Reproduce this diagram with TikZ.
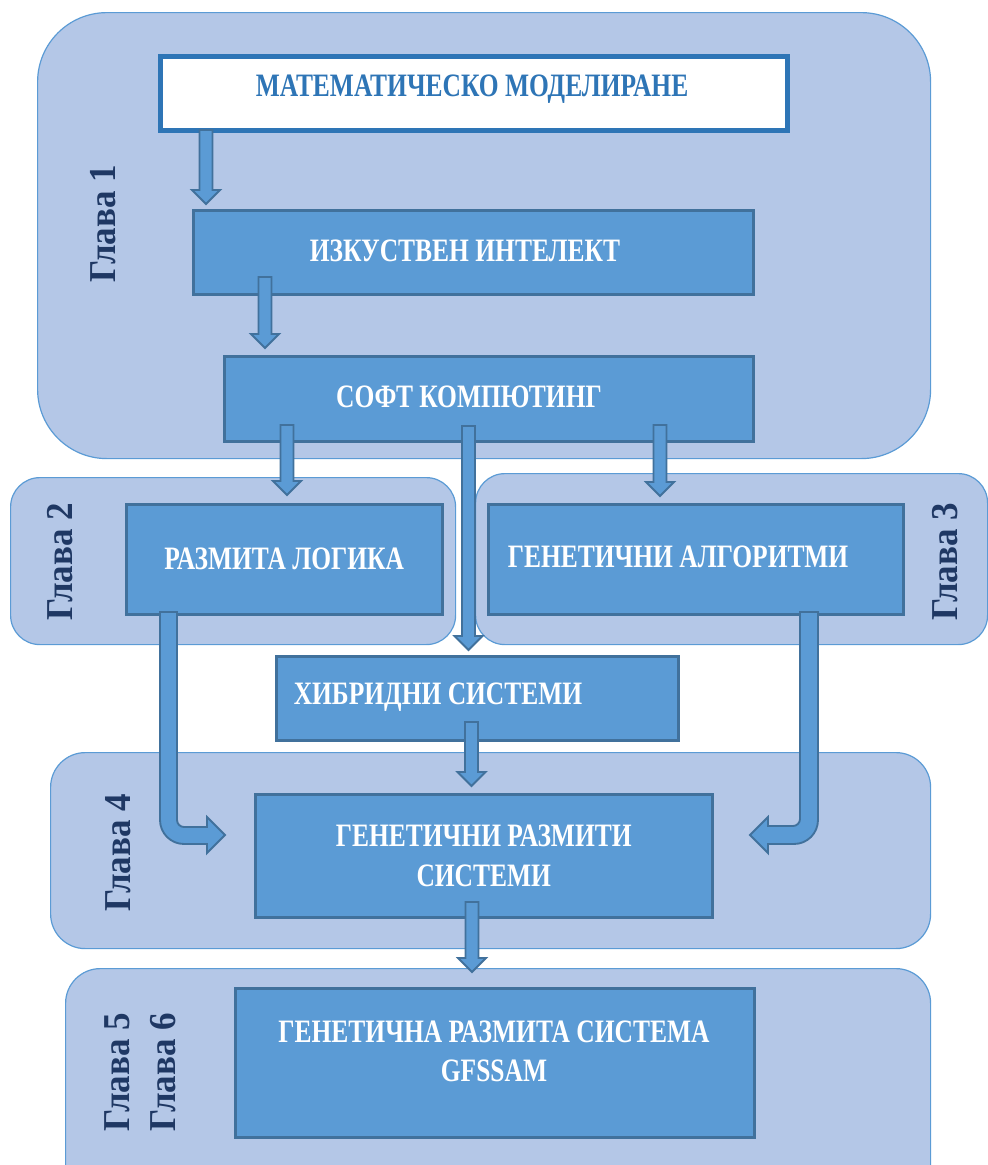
\documentclass[tikz,border=0pt]{standalone}
\usepackage{fontspec}
\newfontfamily\boxfont{Liberation Serif}[FakeStretch=0.78]
\newfontfamily\lblfont{Liberation Serif}[FakeStretch=0.92]
\definecolor{grpfill}{HTML}{B4C7E7}
\definecolor{grpline}{HTML}{5B9BD5}
\definecolor{boxfill}{HTML}{5B9BD5}
\definecolor{boxline}{HTML}{41719C}
\definecolor{topline}{HTML}{2E75B6}
\definecolor{lblcol}{HTML}{1F3864}
\tikzset{
  grp/.style={draw=grpline, fill=grpfill, line width=0.9pt},
  box/.style={draw=boxline, fill=boxfill, line width=1.9pt, text=white, align=center, inner sep=0pt,
    font=\boxfont\bfseries\fontsize{24.5}{29.5}\selectfont},
  topbox/.style={draw=topline, fill=white, line width=3.5pt, inner sep=0pt},
  boxtext/.style={text=white, align=center, inner sep=0pt, font=\boxfont\bfseries\fontsize{24.5}{29.5}\selectfont},
  lbl/.style={text=lblcol, rotate=90, inner sep=0pt, font=\lblfont\bfseries\fontsize{28.5}{34}\selectfont},
  barrow/.style={draw=boxline, fill=boxfill, line width=1.4pt, line join=miter}
}
\newcommand\mybox[7]{% name, style, x1, y1, x2, y2, text
  \pgfmathsetmacro\bw{(#5-#3)*0.75}\pgfmathsetmacro\bh{(#6-#4)*0.75}%
  \node[#2, minimum width=\bw pt, minimum height=\bh pt, anchor=north west] (#1) at (#3,#4) {#7};}
\newcommand\varrow[3]{% cx, ytop, ytip
  \draw[barrow] (#1-6.5,#2) -- (#1-6.5,#3-14) -- (#1-14,#3-14) -- (#1,#3) -- (#1+14,#3-14) -- (#1+6.5,#3-14) -- (#1+6.5,#2) -- cycle;}
\begin{document}
\begin{tikzpicture}[x=0.75pt,y=-0.75pt]
\useasboundingbox (0,0) rectangle (988,1165);
% groups
\mybox{g1}{grp, rounded corners=52pt}{37}{12}{930}{458}{}
\mybox{g2}{grp, rounded corners=22pt}{10}{477}{455}{644}{}
\mybox{g3}{grp, rounded corners=22pt}{475}{473}{987}{644}{}
\mybox{g4}{grp, rounded corners=26pt}{50}{752}{930}{948}{}
\mybox{g5}{grp, rounded corners=26pt}{65}{968}{930}{1210}{}
% labels
\node[lbl] (l1) at (103,224) {Глава 1};
\node[lbl] (l2) at (60,562) {Глава 2};
\node[lbl] (l3) at (945,562) {Глава 3};
\node[lbl] (l4) at (118,853) {Глава 4};
\node[lbl] (l5) at (117,1072) {Глава 5};
\node[lbl] (l6) at (163,1072) {Глава 6};
% boxes
\mybox{mm}{topbox}{158}{54}{785}{128}{}
\node[boxtext, text=topline] (mmt) at (472,89) {МАТЕМАТИЧЕСКО МОДЕЛИРАНЕ};
\mybox{ii}{box}{192}{209}{752}{293}{}
\node[boxtext] (iit) at (465,251) {ИЗКУСТВЕН ИНТЕЛЕКТ};
\mybox{sc}{box}{223}{355}{752}{440}{}
\node[boxtext] (sct) at (469,397) {СОФТ КОМПЮТИНГ};
\mybox{rl}{box}{125}{503}{441}{613}{РАЗМИТА ЛОГИКА}
\mybox{ga}{box}{487}{503}{902}{613}{}
\node[boxtext] (gat) at (678,557) {ГЕНЕТИЧНИ АЛГОРИТМИ};
\mybox{hs}{box}{275}{655}{677}{739}{}
\node[boxtext] (hst) at (438,697) {ХИБРИДНИ СИСТЕМИ};
\mybox{grs}{box}{254}{793}{711}{916}{ГЕНЕТИЧНИ РАЗМИТИ\\СИСТЕМИ}
\mybox{gfs}{box}{234}{987}{753}{1136}{}
\node[boxtext] (gfst) at (494,1051) {ГЕНЕТИЧНА РАЗМИТА СИСТЕМА\\GFSSAM};
% straight block arrows
\varrow{206}{130}{204}
\varrow{265}{277}{348}
\varrow{287}{425}{495}
\varrow{468.5}{426}{650}
\varrow{660}{425}{496}
\varrow{471.5}{722}{786}
\varrow{472}{902}{972}
% bent block arrows
\draw[barrow] (160,612) -- (160,820) .. controls (160,833.25) and (170.75,844) .. (184,844)
  -- (207,844) -- (207,853) -- (225,835) -- (207,817) -- (207,827) -- (184,827)
  .. controls (180.13,827) and (177,823.87) .. (177,820) -- (177,612) -- cycle;
\draw[barrow] (800,612) -- (800,819) .. controls (800,822.87) and (796.87,826) .. (793,826)
  -- (768,826) -- (768,817) -- (750,835) -- (768,853) -- (768,844) -- (794,844)
  .. controls (807.25,844) and (818,833.25) .. (818,820) -- (818,612) -- cycle;
\end{tikzpicture}
\end{document}
